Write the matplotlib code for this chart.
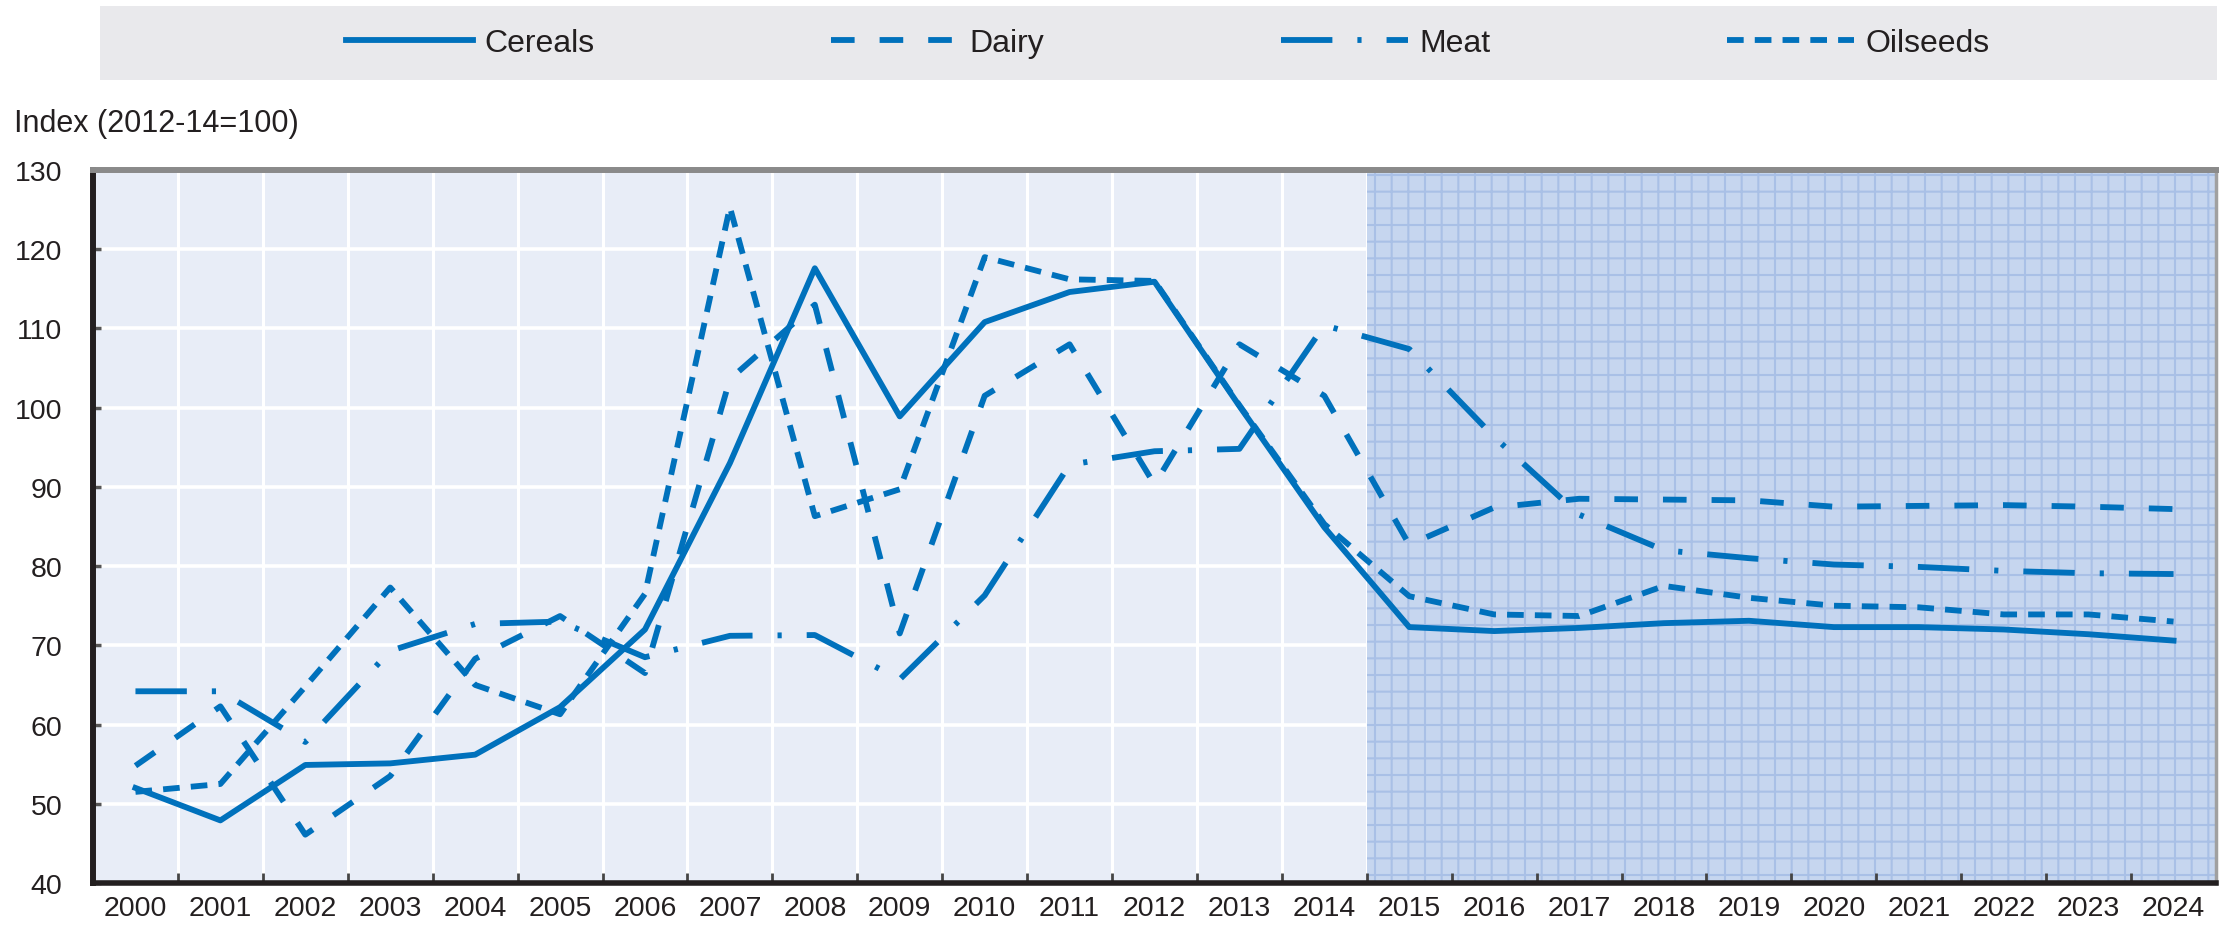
import numpy as np
import matplotlib
matplotlib.use("Agg")
import matplotlib.pyplot as plt
from matplotlib.patches import Rectangle

# data (index 2012-14=100)
years = list(range(2000, 2025))
cereals = [52.0, 47.9, 54.9, 55.1, 56.2, 62.2, 72.0, 93.0, 117.6, 98.9, 110.8, 114.6, 115.9,
           100.2, 84.9, 72.3, 71.8, 72.2, 72.8, 73.1, 72.3, 72.3, 72.0, 71.4, 70.6]
dairy = [54.8, 62.3, 46.1, 53.5, 68.3, 73.7, 66.5, 103.6, 113.0, 71.5, 101.5, 108.0, 90.3,
         108.0, 101.5, 82.7, 87.4, 88.5, 88.4, 88.3, 87.5, 87.6, 87.7, 87.5, 87.2]
meat = [64.2, 64.2, 57.8, 69.3, 72.7, 73.0, 68.5, 71.2, 71.3, 65.7, 76.3, 92.8, 94.5,
        94.8, 110.4, 107.4, 96.3, 86.5, 82.0, 81.0, 80.2, 79.9, 79.4, 79.1, 79.0]
oilseeds = [51.5, 52.5, 64.8, 77.3, 65.0, 61.3, 76.5, 125.3, 86.3, 89.7, 119.0, 116.2, 116.0,
            100.3, 85.3, 76.2, 73.9, 73.7, 77.5, 76.0, 75.0, 74.8, 73.9, 73.9, 73.0]
first_projection = 2015
y_ticks = [40, 50, 60, 70, 80, 90, 100, 110, 120, 130]

blue = "#0071bc"
txt = "#231f20"

plt.rcParams["font.family"] = ["Liberation Sans", "DejaVu Sans"]
plt.rcParams["lines.scale_dashes"] = False
plt.rcParams["hatch.linewidth"] = 1.5
plt.rcParams["hatch.color"] = "#a9c0e6"

W, H = 2235, 928
fig = plt.figure(figsize=(W / 100, H / 100), dpi=100)
ax = fig.add_axes([93 / W, 1 - 884 / H, (2216 - 93) / W, (884 - 171) / H])
ax.set_facecolor("#e8edf7")

x = np.arange(len(years))
ax.set_xlim(-0.5, len(years) - 0.5)
ax.set_ylim(y_ticks[0], y_ticks[-1])

# white grid, drawn by hand so the ticks can sit on top of the shading
ax.hlines(y_ticks[1:-1], -0.5, len(years) - 0.5, color="white", lw=2.6, zorder=0.3)
ax.vlines(x[:-1] + 0.5, y_ticks[0], y_ticks[-1], color="white", lw=2.2, zorder=0.3)

# projection period
p0 = years.index(first_projection) - 0.5
ax.axvspan(p0, len(years) - 0.5, facecolor="#c6d6ef", edgecolor="#a9c0e6",
           hatch="+", linewidth=0, zorder=0.6)

lw = 4.2
ax.plot(x, cereals, color=blue, lw=lw, ls="-", label="Cereals", zorder=3)
ax.plot(x, dairy, color=blue, lw=lw, ls=(0, (17, 18)), label="Dairy", zorder=3)
ax.plot(x, meat, color=blue, lw=lw, ls=(0, (37, 18, 3, 18)), label="Meat", zorder=3)
ax.plot(x, oilseeds, color=blue, lw=lw, ls=(0, (12, 8)), label="Oilseeds", zorder=3)

# ticks: marks on the category boundaries, labels in the middle
ax.set_xticks(x[:-1] + 0.5)
ax.set_xticklabels([])
ax.set_xticks(x, minor=True)
ax.set_xticklabels([str(y) for y in years], minor=True)
ax.tick_params(axis="x", which="major", direction="in", length=7, width=2, color="#444444")
ax.tick_params(axis="x", which="minor", length=0, pad=9, labelsize=20.5, labelcolor=txt)
ax.set_yticks(y_ticks)
ax.tick_params(axis="y", direction="in", length=6, width=2.5, color="#555555",
               pad=22, labelsize=20.5, labelcolor=txt)

ax.spines["left"].set_color("#231f20")
ax.spines["left"].set_linewidth(4.3)
ax.spines["bottom"].set_color("#231f20")
ax.spines["bottom"].set_linewidth(4.0)
ax.spines["top"].set_color("#8a8a8a")
ax.spines["top"].set_linewidth(4.3)
ax.spines["right"].set_color("#a0a0a0")
ax.spines["right"].set_linewidth(2.5)

fig.text(14 / W, 1 - 124 / H, "Index (2012-14=100)", ha="left", va="center",
         fontsize=22, color=txt)

# legend band
fig.patches.append(Rectangle((100 / W, 1 - 81 / H), (2217 - 100) / W, 74 / H,
                             transform=fig.transFigure, facecolor="#e9e9ec",
                             edgecolor="none", zorder=0))
handles, labels = ax.get_legend_handles_labels()
fig.legend(handles, labels, loc="center", bbox_to_anchor=(1168 / W, 1 - 44 / H),
           ncol=4, frameon=False, fontsize=23, handlelength=3.97,
           columnspacing=7.4, handletextpad=0.37, labelcolor=txt)

fig.savefig("out.png", dpi=100)
